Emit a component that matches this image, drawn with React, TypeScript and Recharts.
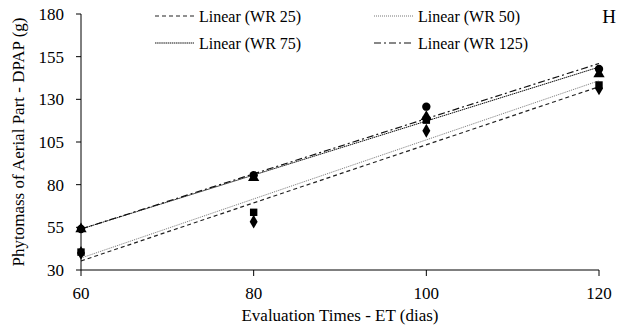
import { ComposedChart, Line, Scatter, XAxis, YAxis, ZAxis, Legend, Label } from 'recharts';

const FONT = 'Liberation Serif';

const times = [60, 80, 100, 120];

// observed values per water regime
const wr25 = [40, 58.3, 111.6, 136.4];
const wr50 = [40.5, 63.8, 117.8, 138.4];
const wr75 = [54, 84, 119.8, 144.9];
const wr125 = [54, 85.5, 125.7, 147.8];

// trend line ends, read at 60 and 120 days
const trendX = [60, 120];
const trend25 = [35.3, 137.4];
const trend50 = [37, 140.9];
const trend75 = [54, 148.9];
const trend125 = [54, 151];

const xTicks = [60, 80, 100, 120];
const yTicks = [30, 55, 80, 105, 130, 155, 180];

const toPoints = (xs: number[], ys: number[]) => xs.map((x, i) => ({ x, y: ys[i] }));

const trends = [
  { name: 'Linear (WR 25)', values: trend25, dash: '4 3', color: '#222', width: 1.2 },
  { name: 'Linear (WR 50)', values: trend50, dash: '1 1', color: '#777', width: 1 },
  { name: 'Linear (WR 75)', values: trend75, dash: '1.5 0.6', color: '#111', width: 1 },
  { name: 'Linear (WR 125)', values: trend125, dash: '7 3 2 3', color: '#111', width: 1.2 },
];

const series = [
  { name: 'WR 25', values: wr25, shape: 'diamond' as const },
  { name: 'WR 50', values: wr50, shape: 'square' as const },
  { name: 'WR 75', values: wr75, shape: 'triangle' as const },
  { name: 'WR 125', values: wr125, shape: 'circle' as const },
];

// legend laid out in 2 columns, like the original
const legendPos = [
  { x: 155, y: 16 },
  { x: 374, y: 16 },
  { x: 155, y: 43 },
  { x: 374, y: 43 },
];

const TrendLegend = () => (
  <svg width={628} height={60} style={{ position: 'absolute', left: 0, top: 0, fontFamily: FONT }}>
    {trends.map((t, i) => (
      <g key={t.name}>
        <line
          x1={legendPos[i].x}
          x2={legendPos[i].x + 39}
          y1={legendPos[i].y}
          y2={legendPos[i].y}
          stroke={t.color}
          strokeWidth={t.width}
          strokeDasharray={t.dash}
        />
        <text
          x={legendPos[i].x + 44}
          y={legendPos[i].y}
          dy="0.35em"
          fill="#000"
          style={{ fontSize: 16, fontFamily: FONT }}
        >
          {t.name}
        </text>
      </g>
    ))}
    <text x={609} y={16} dy="0.35em" textAnchor="middle" fill="#000" style={{ fontSize: 19, fontFamily: FONT }}>
      H
    </text>
  </svg>
);

export default function App() {
  const tick = { fill: '#000', fontSize: 17, fontFamily: FONT };
  return (
    <div
      style={{
        position: 'absolute',
        left: 0,
        top: 0,
        width: 628,
        height: 329,
        background: '#fff',
        fontFamily: FONT,
      }}
    >
      <ComposedChart width={628} height={329} margin={{ top: 14, right: 29, bottom: 0, left: 0 }}>
        <XAxis
          type="number"
          dataKey="x"
          domain={[60, 120]}
          ticks={xTicks}
          tick={tick}
          tickSize={6}
          tickMargin={11}
          height={59}
          stroke="#000"
        >
          <Label
            value="Evaluation Times - ET (dias)"
            position="insideBottom"
            offset={8}
            style={{ fill: '#000', fontSize: 17, fontFamily: FONT }}
          />
        </XAxis>
        <YAxis
          type="number"
          dataKey="y"
          domain={[30, 180]}
          ticks={yTicks}
          tick={tick}
          tickSize={5}
          tickMargin={12}
          width={81}
          stroke="#000"
        >
          <Label
            value="Phytomass of Aerial Part - DPAP (g)"
            angle={-90}
            position="insideLeft"
            offset={18}
            style={{ fill: '#000', fontSize: 17, fontFamily: FONT, textAnchor: 'middle' }}
          />
        </YAxis>
        <ZAxis range={[55, 55]} />
        {trends.map((t) => (
          <Line
            key={t.name}
            data={toPoints(trendX, t.values)}
            dataKey="y"
            stroke={t.color}
            strokeWidth={t.width}
            strokeDasharray={t.dash}
            dot={false}
            activeDot={false}
            isAnimationActive={false}
            legendType="none"
          />
        ))}
        {series.map((s) => (
          <Scatter
            key={s.name}
            name={s.name}
            data={toPoints(times, s.values)}
            shape={s.shape}
            fill="#000"
            isAnimationActive={false}
          />
        ))}
        <Legend content={() => null} />
      </ComposedChart>
      <TrendLegend />
    </div>
  );
}
